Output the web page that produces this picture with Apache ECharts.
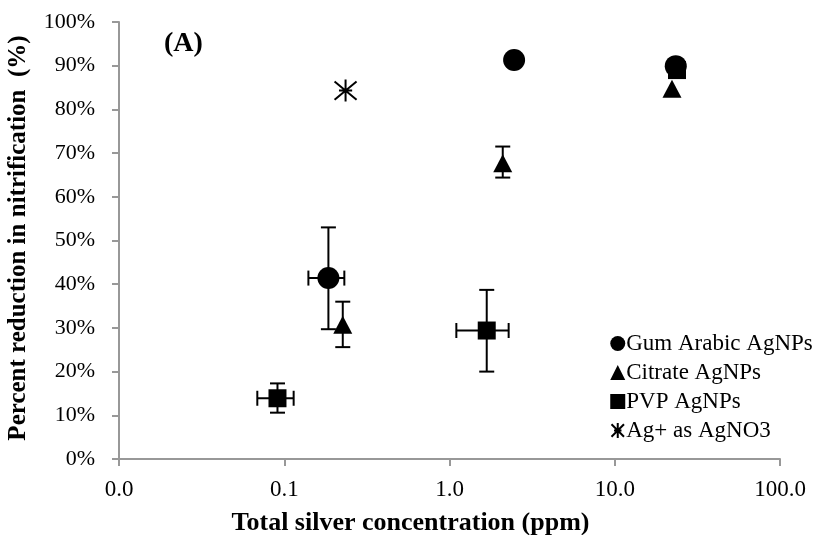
<!DOCTYPE html>
<html>
<head>
<meta charset="utf-8">
<script src="https://cdn.jsdelivr.net/npm/echarts@6/dist/echarts.min.js"></script>
<style>html,body{margin:0;padding:0;background:#fff}#c{width:820px;height:535px}</style>
</head>
<body>
<div id="c"></div>
<script>
// ---- data (x: ppm, y: % reduction) ----
var gumX = [0.185, 2.46, 23.4];
var gumY = [41.4, 91.3, 89.9];
var citX = [0.226, 2.10, 22.2];
var citY = [30.7, 67.7, 84.7];
var pvpX = [0.091, 1.68, 23.8];
var pvpY = [13.9, 29.4, 89.0];
var agX = [0.235];
var agY = [84.3];
// error bars (null = none)
var gumErrXLo = [0.140, null, null], gumErrXHi = [0.231, null, null];
var gumErrYLo = [29.7, null, null],  gumErrYHi = [53.0, null, null];
var citErrXLo = [null, null, null],  citErrXHi = [null, null, null];
var citErrYLo = [25.6, 64.4, null],  citErrYHi = [36.0, 71.5, null];
var pvpErrXLo = [0.0687, 1.10, null], pvpErrXHi = [0.114, 2.28, null];
var pvpErrYLo = [10.6, 20.0, null],  pvpErrYHi = [17.3, 38.7, null];
var xTicks = [0.01, 0.1, 1, 10, 100];
var yTicks = [0, 10, 20, 30, 40, 50, 60, 70, 80, 90, 100];
var seriesNames = ['Gum Arabic AgNPs', 'Citrate AgNPs', 'PVP AgNPs', 'Ag+ as AgNO3'];

function pairs(xs, ys) { return xs.map(function (x, i) { return [x, ys[i]]; }); }
function errRows(xs, ys, xl, xh, yl, yh) {
  var out = [];
  xs.forEach(function (x, i) {
    if (xl[i] == null && yl[i] == null) return;
    out.push([x, ys[i], xl[i] == null ? x : xl[i], xh[i] == null ? x : xh[i],
              yl[i] == null ? ys[i] : yl[i], yh[i] == null ? ys[i] : yh[i]]);
  });
  return out;
}
var errData = [].concat(
  errRows(gumX, gumY, gumErrXLo, gumErrXHi, gumErrYLo, gumErrYHi),
  errRows(citX, citY, citErrXLo, citErrXHi, citErrYLo, citErrYHi),
  errRows(pvpX, pvpY, pvpErrXLo, pvpErrXHi, pvpErrYLo, pvpErrYHi)
);

var FONT = '"Liberation Serif", "Times New Roman", serif';
var chart = echarts.init(document.getElementById('c'), null, { renderer: 'canvas' });

function errRender(params, api) {
  var c = api.coord([api.value(0), api.value(1)]);
  var xl = api.coord([api.value(2), api.value(1)]);
  var xh = api.coord([api.value(3), api.value(1)]);
  var yl = api.coord([api.value(0), api.value(4)]);
  var yh = api.coord([api.value(0), api.value(5)]);
  var cap = 7.5;
  var st = { stroke: '#000', lineWidth: 2 };
  var ch = [];
  if (Math.abs(yh[1] - yl[1]) > 1) {
    ch.push({ type: 'line', shape: { x1: c[0], y1: yh[1], x2: c[0], y2: yl[1] }, style: st });
    ch.push({ type: 'line', shape: { x1: c[0] - cap, y1: yh[1], x2: c[0] + cap, y2: yh[1] }, style: st });
    ch.push({ type: 'line', shape: { x1: c[0] - cap, y1: yl[1], x2: c[0] + cap, y2: yl[1] }, style: st });
  }
  if (Math.abs(xh[0] - xl[0]) > 1) {
    ch.push({ type: 'line', shape: { x1: xl[0], y1: c[1], x2: xh[0], y2: c[1] }, style: st });
    ch.push({ type: 'line', shape: { x1: xl[0], y1: c[1] - cap, x2: xl[0], y2: c[1] + cap }, style: st });
    ch.push({ type: 'line', shape: { x1: xh[0], y1: c[1] - cap, x2: xh[0], y2: c[1] + cap }, style: st });
  }
  return { type: 'group', children: ch };
}

var option = {
  animation: false,
  backgroundColor: '#fff',
  textStyle: { fontFamily: FONT },
  grid: { left: 119, right: 40, top: 22, bottom: 76, containLabel: false, outerBoundsMode: 'none' },
  xAxis: {
    type: 'log', logBase: 10, min: xTicks[0], max: xTicks[xTicks.length - 1],
    name: 'Total silver concentration (ppm)', nameLocation: 'middle', nameGap: 51,
    nameTextStyle: { fontFamily: FONT, fontWeight: 'bold', fontSize: 26, color: '#000', padding: [0, 78, 0, 0] },
    axisLine: { show: true, lineStyle: { color: '#989898', width: 2 } },
    axisTick: { show: true, length: 7, lineStyle: { color: '#989898', width: 2 } },
    minorTick: { show: false },
    splitLine: { show: false },
    axisLabel: { margin: 19, fontFamily: FONT, fontSize: 23, color: '#000',
      formatter: function (v) { return Number(v).toFixed(1); } }
  },
  yAxis: {
    type: 'value', min: yTicks[0], max: yTicks[yTicks.length - 1], interval: 10,
    name: 'Percent reduction in nitrification  (%)', nameLocation: 'middle', nameGap: 88,
    nameTextStyle: { fontFamily: FONT, fontWeight: 'bold', fontSize: 25, color: '#000', padding: [0, 0, 0, 5] },
    axisLine: { show: true, lineStyle: { color: '#989898', width: 2 } },
    axisTick: { show: true, inside: false, length: 7, lineStyle: { color: '#989898', width: 2 } },
    splitLine: { show: false },
    axisLabel: { margin: 24, fontFamily: FONT, fontSize: 22, color: '#000', formatter: '{value}%' }
  },
  legend: {
    orient: 'vertical', left: 604, top: 327, itemGap: 6, itemWidth: 15, itemHeight: 15,
    textStyle: { fontFamily: FONT, fontSize: 23, color: '#000', padding: [0, 0, 0, -4] },
    data: seriesNames.map(function (n) { return { name: n }; })
  },
  graphic: [{
    type: 'text', left: 164, top: 30,
    style: { text: '(A)', font: 'bold 28px "Liberation Serif", serif', fill: '#000' }
  }],
  series: [
    { type: 'custom', name: 'err', renderItem: errRender, data: errData, z: 1,
      encode: { x: [0, 2, 3], y: [1, 4, 5] }, silent: true },
    { type: 'scatter', name: seriesNames[0], data: pairs(gumX, gumY), symbol: 'circle', symbolSize: 22,
      itemStyle: { color: '#000', opacity: 1 }, z: 3 },
    { type: 'scatter', name: seriesNames[1], data: pairs(citX, citY), symbol: 'triangle', symbolSize: [19, 18],
      itemStyle: { color: '#000', opacity: 1 }, z: 4 },
    { type: 'scatter', name: seriesNames[2], data: pairs(pvpX, pvpY), symbol: 'rect', symbolSize: 18,
      itemStyle: { color: '#000', opacity: 1 }, z: 3 },
    { type: 'scatter', name: seriesNames[3], data: pairs(agX, agY),
      symbol: 'path://M-10,-10L10,10M-10,10L10,-10M0,-12L0,12M-6,0L6,0', symbolSize: 22,
      itemStyle: { color: 'none', borderColor: '#000', borderWidth: 2, opacity: 1 }, z: 5 }
  ]
};
chart.setOption(option);
</script>
</body>
</html>
